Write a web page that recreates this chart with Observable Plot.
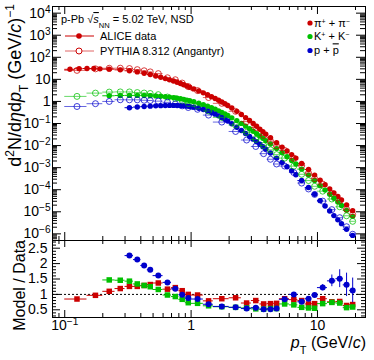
<!DOCTYPE html>
<html><head><meta charset="utf-8">
<script src="https://cdn.jsdelivr.net/npm/d3@7"></script>
<script src="https://cdn.jsdelivr.net/npm/@observablehq/plot@0.6"></script>
<style>
body{margin:0;background:#fff;font-family:"Liberation Sans",Arial,Helvetica,sans-serif;}
#wrap{position:relative;width:374px;height:360px;overflow:hidden;background:#fff;}
#wrap > div, #wrap > svg{position:absolute;left:0;}
</style></head><body><div id="wrap"></div>
<script>
// ---------------- data ----------------
const dataEdges = [0.10,0.12,0.14,0.16,0.18,0.20,0.25,0.30,0.35,0.40,0.45,0.50,0.55,0.60,0.65,0.70,0.75,0.80,0.85,0.90,0.95,1.00,1.10,1.20,1.30,1.40,1.50,1.60,1.70,1.80,1.90,2.00,2.20,2.40,2.60,2.80,3.00,3.20,3.40,3.60,3.80,4.00,4.50,5.00,5.50,6.00,6.50,7.00,8.00,9.00,10.0,11.0,12.0,13.0,14.0,15.0,16.0,18.0,20.0];
const pionData = [28.5,30.5,31,31,30, 29,27,24.5,21.8,19.0,16.5,14.3,12.4,10.8,9.5,8.4,7.4,6.5,5.7,5.0,4.4, 3.7,3.0,2.45,2.0,1.65,1.36,1.13,0.94,0.78,0.65, 0.50,0.355,0.255,0.185,0.136,0.100,0.075,0.055,0.042,0.033, 0.0225,0.0135,0.0085,0.0057,0.0039,0.0027, 0.00155,0.00082,0.00046, 0.00027,0.000168,0.000108,0.000072,0.000049,0.000034, 0.0000205,0.0000112];
const kaonData = [null,null,null,null,null, 1.80,1.85,1.88,1.88,1.86,1.83,1.78,1.72,1.65,1.57,1.49,1.41,1.32,1.24,1.15,1.07, 0.96,0.83,0.71,0.61,0.52,0.44,0.375,0.32,0.27,0.23, 0.18,0.135,0.101,0.076,0.058,0.0445,0.0345,0.027,0.0212,0.0168, 0.0118,0.0073,0.0047,0.0031,0.0021,0.00147, 0.00086,0.00046,0.00026, 0.000153,0.000096,0.000062,0.000041,0.000028,0.0000195, 0.0000116,0.0000062];
const protonData = [null,null,null,null,null, null,null,0.52,0.555,0.585,0.61,0.63,0.645,0.655,0.66,0.66,0.655,0.645,0.63,0.61,0.59, 0.55,0.49,0.43,0.37,0.315,0.265,0.222,0.186,0.155,0.13, 0.098,0.068,0.048,0.035,0.026,0.0195,0.0148,0.0114,0.0088,0.0069, 0.0046,0.0027,0.0017,0.0011,0.00072,0.00048, 0.00026,0.000125,0.000062, 0.000032,0.0000182,0.0000108,0.0000067,0.0000043,0.0000029, 0.0000016,0.00000085];

const pythiaEdges = [0.10,0.15,0.20,0.25,0.30,0.35,0.40,0.45,0.50,0.60,0.70,0.80,0.90,1.00,1.25,1.50,2.00,2.50,3.00,3.50,4.00,4.50,5.00,6.00,7.00,8.00,9.00,10.0,12.0,14.0,16.0,18.0,20.0];
const pionPythia = [25.5,29.9,31.9,32.1,30.9,27.5,24.5,21.8,18.2,11.8,9.6,6.8,4.7,3.1,1.5,0.82,0.356,0.122,0.066,0.029,0.0158,0.0096,0.006,0.00266,0.00124,0.00057,0.00032,0.00018,0.000067,0.000032,0.0000131,0.0000075];
const kaonPythia = [1.69,2.38,2.65,2.70,2.69,2.52,2.40,2.29,2.03,1.58,1.35,1.08,0.81,0.61,0.37,0.19,0.085,0.040,0.019,0.0101,0.0064,0.0039,0.0027,0.00117,0.0005,0.00026,0.000143,0.000086,0.000038,0.0000169,0.0000066,0.0000037];
const protonPythia = [0.59,0.79,1.0,1.19,1.18,1.18,1.13,1.10,1.03,0.91,0.78,0.63,0.53,0.44,0.24,0.116,0.0435,0.0178,0.0091,0.0043,0.0024,0.00146,0.00118,0.0006,0.0002,0.000108,0.000061,0.0000305,0.0000125,0.0000054,0.0000021,0.00000096];

const pionRatio = [0.85,0.97,1.10,1.19,1.26,1.26,1.29,1.32,1.37,1.17,1.22,1.12,1.00,0.98,0.79,0.86,0.89,0.72,0.80,0.69,0.70,0.71,0.86,0.83,0.80,0.69,0.70,0.86,0.76,0.77,0.64,0.67];
const kaonRatio = [null,null,1.47,1.46,1.43,1.34,1.29,1.25,1.16,0.98,0.93,0.84,0.73,0.71,0.63,0.60,0.58,0.56,0.53,0.52,0.54,0.54,0.69,0.66,0.58,0.56,0.55,0.70,0.74,0.72,0.57,0.59];
const protonRatio = [null,null,null,null,2.26,2.13,1.94,1.80,1.61,1.39,1.18,0.99,0.88,0.85,0.68,0.61,0.58,0.54,0.57,0.52,0.52,0.54,0.84,1.00,0.76,0.86,0.98,1.22,1.44,1.51,1.31,1.13];
const pionRatioErr = [0.03,0.02,0.02,0.02,0.02,0.02,0.02,0.02,0.02,0.02,0.02,0.02,0.02,0.02,0.02,0.02,0.02,0.02,0.02,0.02,0.02,0.02,0.02,0.02,0.03,0.03,0.03,0.03,0.04,0.04,0.05,0.06];
const kaonRatioErr = [null,null,0.03,0.02,0.02,0.02,0.02,0.02,0.02,0.02,0.02,0.02,0.02,0.02,0.02,0.02,0.02,0.02,0.02,0.02,0.02,0.02,0.02,0.02,0.03,0.03,0.03,0.03,0.04,0.04,0.05,0.06];
const protonRatioErr = [null,null,null,null,0.05,0.05,0.04,0.04,0.04,0.03,0.03,0.03,0.03,0.02,0.02,0.02,0.02,0.02,0.02,0.02,0.02,0.02,0.03,0.04,0.04,0.05,0.06,0.10,0.19,0.29,0.38,0.40];

const speciesColors = ["#cc0000", "#00c000", "#0000cc"];
const ratioSymbols = ["square", "square", "circle"];

const topYTicks = [1e4,1e3,1e2,10,1,1e-1,1e-2,1e-3,1e-4,1e-5,1e-6];
const topYLabels = ["10^4","10^3","10^2","10","1","10^−1","10^−2","10^−3","10^−4","10^−5","10^−6"];
const ratioYTicks = [0.5,1,1.5,2,2.5];
const ratioYLabels = ["0.5","1","1.5","2","2.5"];
const xTicks = [0.1,1,10];
const xLabels = ["10^−1","1","10"];

// ---------------- build tables ----------------
function table(edges, vals, errs) {
  const out = [];
  for (let i = 0; i < edges.length - 1; i++) {
    if (vals[i] == null) continue;
    const e = errs ? errs[i] : 0;
    out.push({lo: edges[i], hi: edges[i+1], x: (edges[i] + edges[i+1]) / 2, v: vals[i], v1: vals[i] - e, v2: vals[i] + e});
  }
  return out;
}
const species = [
  {c: speciesColors[0], sym: ratioSymbols[0], data: table(dataEdges, pionData), py: table(pythiaEdges, pionPythia), ratio: table(pythiaEdges, pionRatio, pionRatioErr)},
  {c: speciesColors[1], sym: ratioSymbols[1], data: table(dataEdges, kaonData), py: table(pythiaEdges, kaonPythia), ratio: table(pythiaEdges, kaonRatio, kaonRatioErr)},
  {c: speciesColors[2], sym: ratioSymbols[2], data: table(dataEdges, protonData), py: table(pythiaEdges, protonPythia), ratio: table(pythiaEdges, protonRatio, protonRatioErr)}
];

// ---------------- axis tick helpers ----------------
const W = 374, ML = 52, MR = 9;
const FW = W - ML - MR;
const xDomain = [0.08, 24];
function logMinors(lo, hi, kmin, kmax) {
  const out = [];
  for (let k = kmin; k <= kmax; k++) for (let m = 2; m <= 9; m++) {
    const v = m * Math.pow(10, k);
    if (v > lo * 1.0001 && v < hi * 0.9999) out.push(v);
  }
  return out;
}
const xMinor = logMinors(xDomain[0], xDomain[1], -2, 1);
const topYMinor = logMinors(5e-7, 2e4, -7, 4);
const ratioYMinor = d3.range(3, 28).filter(i => i % 5 !== 0).map(i => i / 10);

function yTickMarks(major, minor, fw, lenMaj, lenMin) {
  return [
    Plot.tickY(major, {y: d => d, insetRight: fw - lenMaj, stroke: "#000"}),
    Plot.tickY(minor, {y: d => d, insetRight: fw - lenMin, stroke: "#000"}),
    Plot.tickY(major, {y: d => d, insetLeft: fw - lenMaj, stroke: "#000"}),
    Plot.tickY(minor, {y: d => d, insetLeft: fw - lenMin, stroke: "#000"})
  ];
}
function xTickMarks(fh, lenMaj, lenMin) {
  return [
    Plot.tickX(xTicks, {x: d => d, insetBottom: fh - lenMaj, stroke: "#000"}),
    Plot.tickX(xMinor, {x: d => d, insetBottom: fh - lenMin, stroke: "#000"}),
    Plot.tickX(xTicks, {x: d => d, insetTop: fh - lenMaj, stroke: "#000"}),
    Plot.tickX(xMinor, {x: d => d, insetTop: fh - lenMin, stroke: "#000"})
  ];
}
function supify(svg) {
  d3.select(svg).selectAll("text").each(function () {
    const t = this.textContent;
    const m = t.match(/^([^\^]*)\^(.+)$/);
    if (m) {
      this.textContent = m[1];
      d3.select(this).append("tspan").attr("dy", "-0.5em").attr("font-size", "0.72em").text(m[2]);
    }
  });
}

const font = "'Liberation Sans', Arial, Helvetica, sans-serif";

// ---------------- top panel ----------------
const topH = 241, topMT = 6, topMB = 1;
const topFH = topH - topMT - topMB;
const topMarks = [
  ...yTickMarks(topYTicks, topYMinor, FW, 9, 5),
  ...xTickMarks(topFH, 8, 4),
  Plot.axisY({ticks: topYTicks, tickFormat: d => topYLabels[topYTicks.indexOf(d)], tickSize: 0, tickPadding: 2, label: null})
];
for (const s of species) {
  topMarks.push(Plot.ruleY(s.data, {x1: "lo", x2: "hi", y: "v", stroke: s.c, strokeWidth: 1}));
  topMarks.push(Plot.dot(s.data, {x: "x", y: "v", r: 2.7, fill: s.c, stroke: "none"}));
}
for (const s of species) {
  topMarks.push(Plot.ruleY(s.py, {x1: "lo", x2: "hi", y: "v", stroke: s.c, strokeOpacity: 0.6, strokeWidth: 1}));
  topMarks.push(Plot.dot(s.py, {x: "x", y: "v", r: 3, fill: "none", stroke: s.c, strokeOpacity: 0.75, strokeWidth: 1}));
}
topMarks.push(Plot.frame({stroke: "#000"}));

const topPlot = Plot.plot({
  width: W, height: topH, marginLeft: ML, marginRight: MR, marginTop: topMT, marginBottom: topMB,
  x: {type: "log", domain: xDomain, axis: null},
  y: {type: "log", domain: [5e-7, 2e4]},
  style: {fontFamily: font, fontSize: "14px", background: "transparent", color: "#000"},
  marks: topMarks
});
supify(topPlot);

// ---------------- ratio panel ----------------
const botH = 120, botMT = 0, botMB = 43;
const botFH = botH - botMT - botMB;
const botMarks = [
  ...yTickMarks(ratioYTicks, ratioYMinor, FW, 8, 4),
  ...xTickMarks(botFH, 7, 4),
  Plot.axisY({ticks: ratioYTicks, tickFormat: d => ratioYLabels[ratioYTicks.indexOf(d)], tickSize: 0, tickPadding: 5, label: null}),
  Plot.axisX({ticks: xTicks, tickFormat: d => xLabels[xTicks.indexOf(d)], tickSize: 0, tickPadding: 3, label: null}),
  Plot.ruleY([1], {stroke: "#000", strokeDasharray: "2,2"})
];
for (const s of species) {
  botMarks.push(Plot.ruleY(s.ratio, {x1: "lo", x2: "hi", y: "v", stroke: s.c, strokeWidth: 1}));
  botMarks.push(Plot.ruleX(s.ratio, {x: "x", y1: "v1", y2: "v2", stroke: s.c, strokeWidth: 1}));
  botMarks.push(Plot.dot(s.ratio, {x: "x", y: "v", r: s.sym === "square" ? 3.1 : 3, symbol: s.sym, fill: s.c, stroke: "none"}));
}
botMarks.push(Plot.frame({stroke: "#000"}));

const botPlot = Plot.plot({
  width: W, height: botH, marginLeft: ML, marginRight: MR, marginTop: botMT, marginBottom: botMB,
  x: {type: "log", domain: xDomain},
  y: {domain: [0.25, 2.75]},
  style: {fontFamily: font, fontSize: "14px", background: "transparent", color: "#000"},
  marks: botMarks
});
supify(botPlot);

// ---------------- assemble ----------------
const wrap = document.getElementById("wrap");
const d1 = document.createElement("div"); d1.style.top = "0px"; d1.appendChild(topPlot); wrap.appendChild(d1);
const d2 = document.createElement("div"); d2.style.top = "240px"; d2.appendChild(botPlot); wrap.appendChild(d2);

// overlay: titles and legends
const ns = "http://www.w3.org/2000/svg";
const ov = d3.select(wrap).append("svg").attr("width", W).attr("height", 360)
  .style("top", "0px").style("pointer-events", "none").style("font-family", font);

ov.append("text").attr("transform", "translate(21,4) rotate(-90)").attr("text-anchor", "end").attr("font-size", 18)
  .html('d<tspan baseline-shift="super" font-size="12">2</tspan>N/d<tspan font-style="italic">η</tspan>d<tspan font-style="italic">p</tspan><tspan baseline-shift="sub" font-size="12">T</tspan> (GeV/<tspan font-style="italic">c</tspan>)<tspan baseline-shift="super" font-size="12">−1</tspan>');
ov.append("text").attr("transform", "translate(25,240) rotate(-90)").attr("text-anchor", "end").attr("font-size", 16)
  .text("Model / Data");
ov.append("text").attr("x", 366).attr("y", 348).attr("text-anchor", "end").attr("font-size", 16)
  .html('<tspan font-style="italic">p</tspan><tspan baseline-shift="sub" font-size="11">T</tspan> (GeV/<tspan font-style="italic">c</tspan>)');

// upper-left legend
ov.append("text").attr("x", 61).attr("y", 23).attr("font-size", 11)
  .html('p-Pb √<tspan font-style="italic" text-decoration="overline">s</tspan><tspan baseline-shift="sub" font-size="7.5">NN</tspan> = 5.02 TeV, NSD');
ov.append("line").attr("x1", 65).attr("x2", 94).attr("y1", 36).attr("y2", 36).attr("stroke", speciesColors[0]);
ov.append("circle").attr("cx", 79).attr("cy", 36).attr("r", 2.8).attr("fill", speciesColors[0]);
ov.append("text").attr("x", 100).attr("y", 40).attr("font-size", 11).text("ALICE data");
ov.append("line").attr("x1", 65).attr("x2", 94).attr("y1", 51).attr("y2", 51).attr("stroke", speciesColors[0]).attr("stroke-opacity", 0.6);
ov.append("circle").attr("cx", 79).attr("cy", 51).attr("r", 3).attr("fill", "#fff").attr("stroke", speciesColors[0]);
ov.append("text").attr("x", 100).attr("y", 55).attr("font-size", 11).text("PYTHIA 8.312 (Angantyr)");

// upper-right legend
const legY = [23, 36.5, 50.5];
const legHtml = [
  'π<tspan baseline-shift="super" font-size="7">+</tspan> + π<tspan baseline-shift="super" font-size="7">−</tspan>',
  'K<tspan baseline-shift="super" font-size="7">+</tspan> + K<tspan baseline-shift="super" font-size="7">−</tspan>',
  'p + <tspan text-decoration="overline">p</tspan>'
];
legY.forEach((y, i) => {
  ov.append("circle").attr("cx", 310).attr("cy", y).attr("r", 2.6).attr("fill", speciesColors[i]);
  ov.append("text").attr("x", 314).attr("y", y + 3.8).attr("font-size", 11).html(legHtml[i]);
});
</script>
</body></html>
